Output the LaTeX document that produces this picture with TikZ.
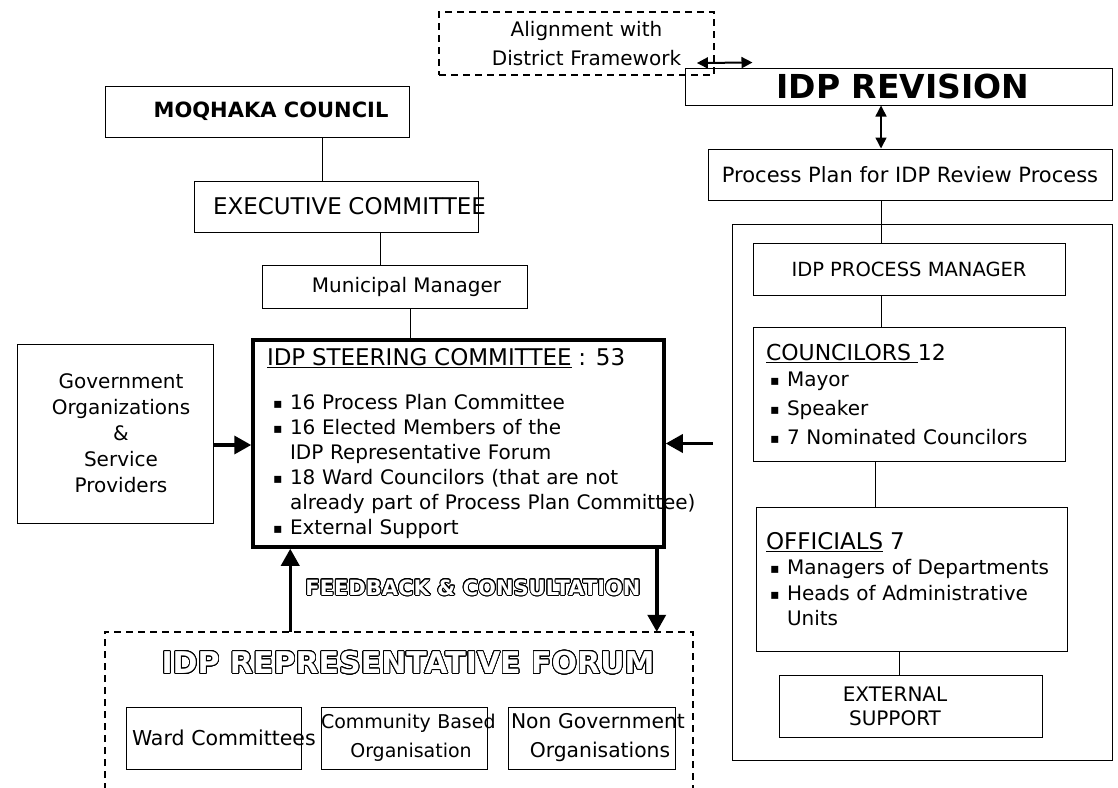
\documentclass[tikz,border=0pt]{standalone}
\usepackage{fontspec}
\setmainfont{DejaVu Sans}
\usepackage[copies]{contour}
\contourlength{0.9pt}
\contournumber{24}
\usetikzlibrary{arrows.meta}

\newcommand{\sz}[2]{\fontsize{#1}{#2}\selectfont}
\newcommand{\bsq}{\hspace*{6pt}\makebox[17pt][l]{\raisebox{1pt}{\sz{14pt}{14pt}▪}}}
\newcommand{\csq}{\hspace*{4pt}\makebox[17pt][l]{\raisebox{1pt}{\sz{14pt}{14pt}▪}}}
\newcommand{\hollow}[1]{\textcolor{white}{\contour{black}{#1}}}

\tikzstyle{orgbox} = [rectangle, draw=black, line width=1pt, inner sep=0pt, text centered]
\tikzstyle{dashbox} = [rectangle, draw=black, line width=1.8pt, dash pattern=on 7pt off 5pt]
\tikzstyle{link} = [line width=1pt]
\tikzstyle{bigarrow} = [line width=3.5pt, -{Triangle[length=17pt,width=18pt]}]
\tikzstyle{dblarrow} = [line width=1.5pt, {Triangle[length=11pt,width=11pt]}-{Triangle[length=11pt,width=11pt]}]

\begin{document}
\begin{tikzpicture}[x=1pt, y=-1pt, font=\sz{20pt}{25pt}]
\useasboundingbox (0,0) rectangle (1118,787);
\node (moq) [orgbox, minimum width=304pt, minimum height=51pt] at (257,111.5) {\hspace*{28pt}\sz{21pt}{25pt}\bfseries MOQHAKA COUNCIL};
\node (exec) [orgbox, minimum width=284pt, minimum height=51pt, text width=284pt, align=left] at (336,206.5) {\hspace*{19pt}\mbox{\sz{23pt}{25pt}EXECUTIVE COMMITTEE}};
\node (muni) [orgbox, minimum width=265pt, minimum height=43pt] at (394.5,286.5) {\hspace*{24pt}Municipal Manager};
\node (gov) [orgbox, minimum width=196pt, minimum height=179pt, align=center, font=\sz{20pt}{26pt}] at (115,433.5) {\hspace*{12pt}Government\\\hspace*{12pt}Organizations\\\hspace*{12pt}\&\\\hspace*{12pt}Service\\\hspace*{12pt}Providers};
\node (steer) [orgbox, line width=3.5pt, minimum height=207pt, text width=383pt, inner xsep=14pt, align=left] at (458.5,443.5) {\mbox{\sz{23pt}{25pt}\underline{IDP STEERING COMMITTEE} : 53}\\[19pt]
\bsq\mbox{16 Process Plan Committee}\\
\bsq\mbox{16 Elected Members of the}\\
\hspace*{23pt}\mbox{IDP Representative Forum}\\
\bsq\mbox{18 Ward Councilors (that are not}\\
\hspace*{23pt}\mbox{already part of Process Plan Committee)}\\
\bsq\mbox{External Support}};

\node (feedback) at (473,588) {\sz{21pt}{21pt}\bfseries\hollow{FEEDBACK \& CONSULTATION}};
\node (forum) [minimum width=588pt, minimum height=170pt] at (399,717) {};
\draw [dashbox] (forum.south west) |- (forum.north east) -- (forum.south east);
\node (forumTitle) at (408,663) {\sz{30pt}{30pt}\bfseries\hollow{IDP REPRESENTATIVE FORUM}};
\node (ward) [orgbox, minimum width=175pt, minimum height=62pt, text width=175pt, align=left] at (213.5,738) {\hspace*{6pt}\mbox{\sz{20.5pt}{29pt}Ward Committees}};
\node (cbo) [orgbox, minimum width=166pt, minimum height=62pt, text width=166pt, align=center, font=\sz{19pt}{29pt}] at (404,738) {\mbox{Community Based}\\\hspace*{14pt}Organisation};
\node (ngo) [orgbox, minimum width=167pt, minimum height=62pt, text width=167pt, align=center, font=\sz{20.3pt}{29pt}] at (591.5,738) {\hspace*{3pt}\mbox{Non Government}\\\hspace*{17pt}Organisations};

\coordinate (spine) at (881,0);
\node (align) [dashbox, minimum width=275pt, minimum height=63pt, text width=275pt, inner xsep=0pt, align=center, font=\sz{20pt}{29pt}] at (576.5,43.5) {\hspace*{20pt}Alignment with\\\hspace*{20pt}District Framework};
\node (rev) [orgbox, minimum width=427pt, minimum height=37pt] at (898.5,86.5) {\hspace*{9pt}\sz{33pt}{33pt}\bfseries IDP REVISION};
\node (plan) [orgbox, minimum width=404pt, minimum height=51pt] at (910,174.5) {\sz{21pt}{25pt}Process Plan for IDP Review Process};
\node (team) [orgbox, minimum width=380pt, minimum height=536pt] at (922,492) {};
\node (pm) [orgbox, minimum width=312pt, minimum height=52pt] at (909,269) {\sz{19.5pt}{25pt}IDP PROCESS MANAGER};
\node (coun) [orgbox, minimum width=312pt, minimum height=134pt, text width=286pt, inner xsep=13pt, align=left, font=\sz{20pt}{29pt}] at (909,394) {\mbox{\sz{22pt}{29pt}\underline{COUNCILORS }12}\\[-3pt]
\csq Mayor\\
\csq Speaker\\
\csq 7 Nominated Councilors};
\node (off) [orgbox, minimum width=311pt, minimum height=144pt, text width=291pt, inner xsep=10pt, align=left, font=\sz{20pt}{25.5pt}] at (911.5,579) {\mbox{\sz{23pt}{25.5pt}\underline{OFFICIALS} 7}\\
\csq Managers of Departments\\
\csq Heads of Administrative\\
\hspace*{21pt}Units};
\node (ext) [orgbox, minimum width=263pt, minimum height=62pt, align=center, font=\sz{20pt}{24pt}] at (910.5,706) {EXTERNAL\hspace*{31pt}\\SUPPORT\hspace*{31pt}};

\draw [link] ([xshift=65pt]moq.south) -- ([xshift=65pt]moq.south |- exec.north);
\draw [link] ([xshift=44pt]exec.south) -- ([xshift=44pt]exec.south |- muni.north);
\draw [link] ([xshift=15.5pt]muni.south) -- ([xshift=15.5pt]muni.south |- steer.north);
\draw [bigarrow] ([yshift=-11.5pt]gov.east) -- ([yshift=-11.5pt]gov.east -| steer.west);
\draw [bigarrow] ([xshift=-19pt]team.west |- steer.east) -- (steer.east);
\draw [bigarrow] ([xshift=39pt]steer.south west |- forum.north) -- ([xshift=39pt]steer.south west);
\draw [bigarrow] ([xshift=-9pt]steer.south east) -- ([xshift=-9pt]steer.south east |- forum.north);
\draw [dblarrow, line width=2pt] ([xshift=-18pt,yshift=-19.5pt]align.east) -- ([xshift=68pt,yshift=5pt]rev.north west);
\draw [dblarrow] (rev.south -| spine) -- (plan.north -| spine);
\draw [link] (plan.south -| spine) -- (pm.north -| spine);
\draw [link] (pm.south -| spine) -- (coun.north -| spine);
\draw [link] ([xshift=-34pt]coun.south) -- ([xshift=-34pt]coun.south |- off.north);
\draw [link] ([xshift=-12.5pt]off.south) -- ([xshift=-12.5pt]off.south |- ext.north);
\end{tikzpicture}
\end{document}
